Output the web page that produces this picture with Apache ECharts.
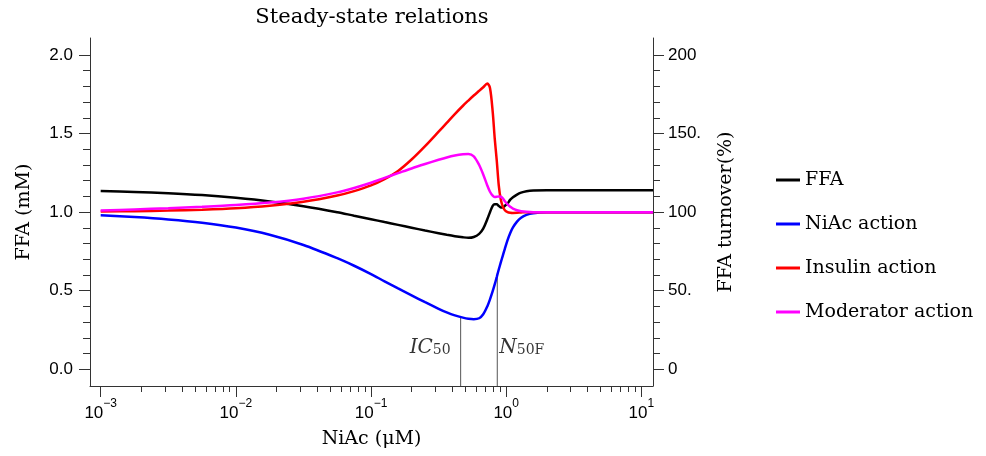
<!DOCTYPE html>
<html>
<head>
<meta charset="utf-8">
<script src="https://cdn.jsdelivr.net/npm/echarts@6/dist/echarts.min.js"></script>
<style>
html,body{margin:0;padding:0;background:#fff;}
#main{width:986px;height:456px;}
</style>
</head>
<body>
<div id="main"></div>
<script>
// x positions as log10(NiAc / uM)
var logX = [-3, -2.75, -2.5, -2.25, -2, -1.75, -1.5, -1.25, -1.125, -1, -0.9, -0.8, -0.7, -0.6, -0.5, -0.44, -0.38, -0.32, -0.28, -0.24,
    -0.2, -0.17, -0.14, -0.12, -0.1, -0.085, -0.07, -0.055, -0.04, -0.025, -0.01, 0.01, 0.03, 0.05, 0.08, 0.11, 0.15, 0.2, 0.3, 0.5,
    0.75, 1.0, 1.086];
// FFA (mM)
var ffa = [1.134, 1.129, 1.121, 1.109, 1.091, 1.068, 1.038, 1.0, 0.977, 0.955, 0.937, 0.919, 0.901, 0.883, 0.866, 0.856, 0.847, 0.84, 0.837, 0.842,
    0.862, 0.895, 0.955, 1.0, 1.04, 1.05, 1.05, 1.04, 1.03, 1.03, 1.04, 1.055, 1.08, 1.095, 1.112, 1.124, 1.133, 1.138, 1.14, 1.14,
    1.14, 1.14, 1.14];
// actions (relative, 1 = 100%)
var niacAction = [0.98, 0.969, 0.954, 0.933, 0.902, 0.856, 0.791, 0.707, 0.659, 0.606, 0.56, 0.515, 0.471, 0.427, 0.385, 0.362, 0.343, 0.329, 0.322, 0.319,
    0.325, 0.35, 0.40, 0.445, 0.497, 0.54, 0.587, 0.635, 0.68, 0.724, 0.767, 0.822, 0.868, 0.903, 0.94, 0.965, 0.983, 0.993, 0.999, 1.0,
    1.0, 1.0, 1.0];
var insulinAction = [1.004, 1.006, 1.01, 1.016, 1.025, 1.041, 1.066, 1.106, 1.134, 1.17, 1.21, 1.262, 1.335, 1.42, 1.512, 1.568, 1.624, 1.677, 1.71, 1.742,
    1.772, 1.795, 1.818, 1.79, 1.64, 1.47, 1.33, 1.17, 1.08, 1.035, 1.012, 1.0, 0.996, 0.995, 0.996, 0.998, 1.0, 1.0, 1.0, 1.0,
    1.0, 1.0, 1.0];
var moderatorAction = [1.01, 1.0175, 1.025, 1.034, 1.045, 1.061, 1.086, 1.126, 1.154, 1.187, 1.218, 1.248, 1.278, 1.306, 1.333, 1.348, 1.36, 1.368, 1.37, 1.355,
    1.30, 1.24, 1.17, 1.13, 1.105, 1.097, 1.098, 1.10, 1.098, 1.088, 1.07, 1.05, 1.035, 1.022, 1.012, 1.006, 1.002, 1.0, 1.0, 1.0,
    1.0, 1.0, 1.0];

var seriesNames = ['FFA', 'NiAc action', 'Insulin action', 'Moderator action'];
var seriesColors = ['#000000', '#0000ff', '#ff0000', '#ff00ff'];

// IC50 / N50F markers
var markerNames = ['IC', 'N'];
var markerSubs = ['50', '50F'];
var markerX = [-0.337, -0.066];
var markerTop = [0.33, 0.611];
var markerLabelY = [0.15, 0.15];

// ticks
var xMajor = [-3, -2, -1, 0, 1];
var yLeftTicks = [0, 0.5, 1, 1.5, 2];
var yLeftLabels = ['0.0', '0.5', '1.0', '1.5', '2.0'];
var yLeftMinor = [0.1, 0.2, 0.3, 0.4, 0.6, 0.7, 0.8, 0.9, 1.1, 1.2, 1.3, 1.4, 1.6, 1.7, 1.8, 1.9];
var yRightTicks = [0, 50, 100, 150, 200];
var yRightLabels = ['0', '50.', '100', '150.', '200'];
var yRightMinor = [10, 20, 30, 40, 60, 70, 80, 90, 110, 120, 130, 140, 160, 170, 180, 190];

var xMin = -3.079, xMax = 1.086;
var yMin = -0.106, yMax = 2.108;

var xMinor = [];
for (var n = -3; n <= 1; n++) {
    for (var k = 2; k <= 9; k++) {
        var v = n + Math.log10(k);
        if (v < xMax) xMinor.push(v);
    }
}

var serifFont = '"DejaVu Serif", serif';
var sansFont = '"Liberation Sans", Arial, sans-serif';
var axisColor = '#333';

function pairs(ys) {
    return logX.map(function (x, i) { return [x, ys[i]]; });
}

var myChart = echarts.init(document.getElementById('main'));

var series = [];
var values = [ffa, niacAction, insulinAction, moderatorAction];
for (var i = 0; i < seriesNames.length; i++) {
    series.push({
        name: seriesNames[i],
        type: 'line',
        data: pairs(values[i]),
        showSymbol: false,
        symbol: 'none',
        smooth: 0.3,
        color: seriesColors[i],
        lineStyle: {width: 2.5, color: seriesColors[i]},
        emphasis: {disabled: true},
        z: 3
    });
}
// vertical marker lines and their labels
for (var j = 0; j < markerX.length; j++) {
    series.push({
        name: 'marker' + j,
        type: 'line',
        data: [[markerX[j], yMin], [markerX[j], markerTop[j]]],
        symbol: 'none',
        silent: true,
        lineStyle: {width: 1, color: '#555'},
        z: 2
    });
    series.push({
        name: 'label' + j,
        type: 'scatter',
        data: [[markerX[j], markerLabelY[j]]],
        symbolSize: 0,
        silent: true,
        label: {
            show: true,
            position: j === 0 ? 'left' : 'right',
            distance: j === 0 ? 10 : 2,
            formatter: '{i|' + markerNames[j] + '}{s|' + markerSubs[j] + '}',
            rich: {
                i: {fontFamily: serifFont, fontStyle: 'italic', fontSize: 20, color: '#000', lineHeight: 24, verticalAlign: 'bottom'},
                s: {fontFamily: serifFont, fontSize: 14, color: '#000', lineHeight: 12, verticalAlign: 'bottom'}
            }
        }
    });
}

function pick(ticks, labels) {
    return function (v) {
        for (var i = 0; i < ticks.length; i++) {
            if (Math.abs(ticks[i] - v) < 1e-9) return labels[i];
        }
        return '';
    };
}

myChart.setOption({
    animation: false,
    backgroundColor: '#fff',
    title: {
        text: 'Steady-state relations',
        left: 367,
        top: 2,
        textAlign: 'center',
        textStyle: {fontFamily: serifFont, fontSize: 21, fontWeight: 'normal', color: '#000'}
    },
    legend: {
        orient: 'vertical',
        left: 771,
        top: 165,
        icon: 'rect',
        itemWidth: 24,
        itemHeight: 3,
        itemGap: 24,
        data: seriesNames,
        textStyle: {fontFamily: serifFont, fontSize: 19, color: '#000', lineHeight: 20}
    },
    grid: {left: 90, right: 333, top: 38, bottom: 70},
    xAxis: [{
        type: 'value',
        min: xMin,
        max: xMax,
        position: 'bottom',
        name: 'NiAc (\u03bcM)',
        nameLocation: 'middle',
        nameGap: 44,
        nameTextStyle: {fontFamily: serifFont, fontSize: 19, color: '#000'},
        axisLine: {onZero: false, lineStyle: {color: axisColor, width: 1}},
        axisTick: {customValues: xMajor, length: 11, lineStyle: {color: axisColor}},
        axisLabel: {
            customValues: xMajor,
            margin: 12,
            formatter: function (v) {
                var e = Math.round(v);
                return '{b|10}{s|' + (e < 0 ? '\u2212' + (-e) : e) + '}';
            },
            rich: {
                b: {fontFamily: sansFont, fontSize: 17, color: '#000', lineHeight: 24, verticalAlign: 'bottom'},
                s: {fontFamily: sansFont, fontSize: 12, color: '#000', lineHeight: 12, verticalAlign: 'top'}
            }
        },
        splitLine: {show: false}
    }, {
        type: 'value',
        min: xMin,
        max: xMax,
        position: 'bottom',
        axisLine: {show: false, onZero: false},
        axisTick: {customValues: xMinor, length: 6, lineStyle: {color: axisColor}},
        axisLabel: {show: false},
        splitLine: {show: false}
    }],
    yAxis: [{
        type: 'value',
        min: yMin,
        max: yMax,
        position: 'left',
        name: 'FFA (mM)',
        nameLocation: 'middle',
        nameRotate: 90,
        nameGap: 56,
        nameTextStyle: {fontFamily: serifFont, fontSize: 19, color: '#000'},
        axisLine: {show: true, onZero: false, lineStyle: {color: axisColor, width: 1}},
        axisTick: {customValues: yLeftTicks, length: 11, lineStyle: {color: axisColor}},
        axisLabel: {customValues: yLeftTicks, margin: 17, formatter: pick(yLeftTicks, yLeftLabels),
            fontFamily: sansFont, fontSize: 17, color: '#000'},
        splitLine: {show: false}
    }, {
        type: 'value',
        min: yMin,
        max: yMax,
        position: 'left',
        axisLine: {show: false, onZero: false},
        axisTick: {customValues: yLeftMinor, length: 7, lineStyle: {color: axisColor}},
        axisLabel: {show: false},
        splitLine: {show: false}
    }, {
        type: 'value',
        min: yMin * 100,
        max: yMax * 100,
        position: 'right',
        name: 'FFA turnover(%)',
        nameLocation: 'middle',
        nameRotate: 90,
        nameGap: 64,
        nameTextStyle: {fontFamily: serifFont, fontSize: 19, color: '#000'},
        axisLine: {show: true, onZero: false, lineStyle: {color: axisColor, width: 1}},
        axisTick: {customValues: yRightTicks, length: 11, lineStyle: {color: axisColor}},
        axisLabel: {customValues: yRightTicks, margin: 15, formatter: pick(yRightTicks, yRightLabels),
            fontFamily: sansFont, fontSize: 17, color: '#000'},
        splitLine: {show: false}
    }, {
        type: 'value',
        min: yMin * 100,
        max: yMax * 100,
        position: 'right',
        axisLine: {show: false, onZero: false},
        axisTick: {customValues: yRightMinor, length: 7, lineStyle: {color: axisColor}},
        axisLabel: {show: false},
        splitLine: {show: false}
    }],
    series: series
});
</script>
</body>
</html>
